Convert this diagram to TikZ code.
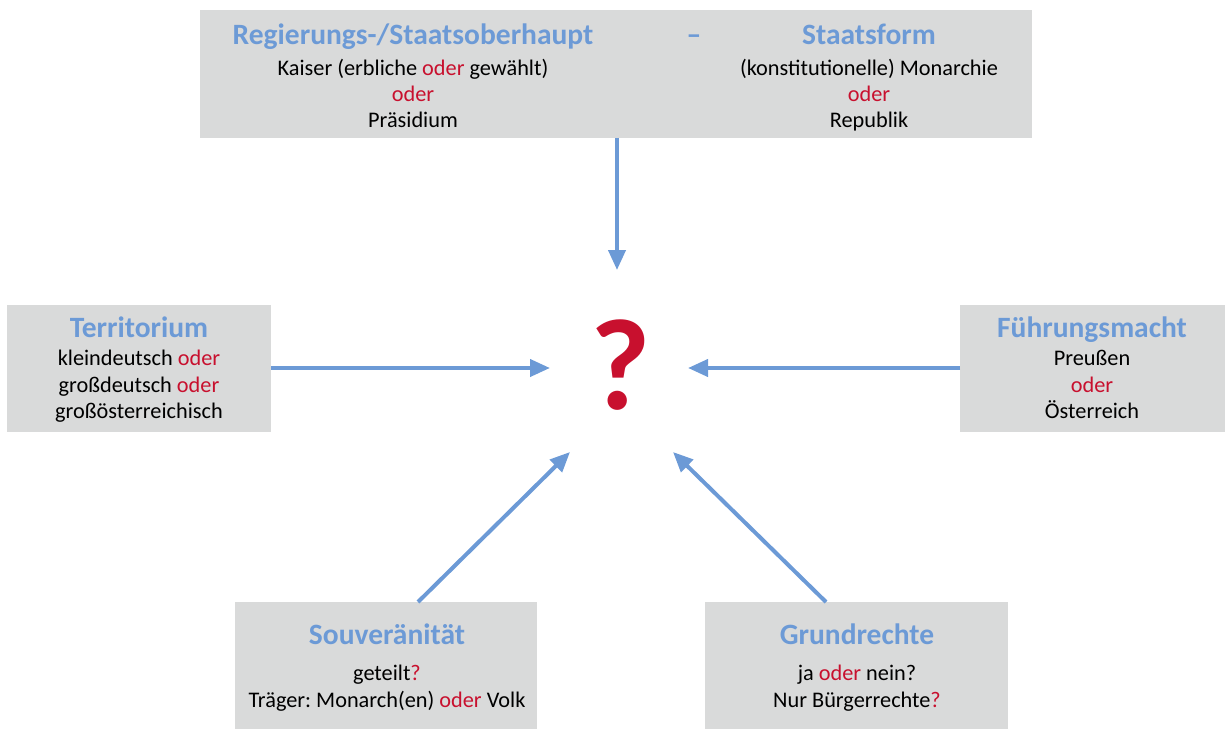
\documentclass[tikz,border=0pt]{standalone}
\usepackage{fontspec}
\setmainfont{Carlito}
\frenchspacing
\usetikzlibrary{arrows.meta}
\definecolor{boxgray}{HTML}{D9DADA}
\definecolor{hblue}{HTML}{6C9AD6}
\definecolor{ored}{HTML}{C8102E}
\begin{document}
\begin{tikzpicture}[x=1pt,y=-1pt,
  box/.style={fill=boxgray,draw=none},
  ttl/.style={text=hblue,font=\fontsize{29.5}{34}\bfseries\selectfont,inner sep=0pt,anchor=base},
  txt/.style={text=black,font=\fontsize{22.3}{26}\selectfont,inner sep=0pt,anchor=base},
  conn/.style={draw=hblue,line width=4pt,-{Triangle[length=20pt,width=17pt]}}]
\useasboundingbox (0,0) rectangle (1225,730);
% boxes
\path[box] (200,10) rectangle (1032,138);
\path[box] (7,305) rectangle (271,432);
\path[box] (960,305) rectangle (1225,432);
\path[box] (235,602) rectangle (537,729);
\path[box] (705,602) rectangle (1008,729);
\newcommand{\od}{\textcolor{ored}{oder}}
% top
\node[ttl] (t1) at (413,44.5) {Regierungs-/Staatsoberhaupt};
\node[ttl] (tdash) at (694,44.5) {–};
\node[ttl] (t2) at (869,44.5) {Staatsform};
\node[txt] (t1a) at (413,76) {Kaiser (erbliche \od{} gewählt)};
\node[txt] (t1b) at (413,102) {\od};
\node[txt] (t1c) at (413,128) {Präsidium};
\node[txt] (t2a) at (869,76) {(konstitutionelle) Monarchie};
\node[txt] (t2b) at (869,102) {\od};
\node[txt] (t2c) at (869,128) {Republik};
% left
\node[ttl] (l1) at (139,337) {Territorium};
\node[txt] (l2) at (139,365) {kleindeutsch \od};
\node[txt] (l3) at (139,392) {großdeutsch \od};
\node[txt] (l4) at (139,418) {großösterreichisch};
% right
\node[ttl] (r1) at (1092,337) {Führungsmacht};
\node[txt] (r2) at (1092,365) {Preußen};
\node[txt] (r3) at (1092,392) {\od};
\node[txt] (r4) at (1092,418) {Österreich};
% bottom left
\node[ttl] (bl1) at (387,644) {Souveränität};
\node[txt] (bl2) at (387,680) {geteilt\textcolor{ored}{?}};
\node[txt] (bl3) at (387,707) {Träger: Monarch(en) \od{} Volk};
% bottom right
\node[ttl] (br1) at (857,644) {Grundrechte};
\node[txt] (br2) at (857,680) {ja \od{} nein?};
\node[txt] (br3) at (857,707) {Nur Bürgerrechte\textcolor{ored}{?}};
% question mark
\node[text=ored,font=\fontsize{130}{130}\bfseries\selectfont,inner sep=0pt] (q) at (621,365) {?};
% connector coordinates
\coordinate (ts) at (617,138); \coordinate (te) at (617,270);
\coordinate (ls) at (271,368); \coordinate (le) at (550,368);
\coordinate (rs) at (960,368); \coordinate (re) at (688,368);
\coordinate (bls) at (418,602); \coordinate (ble) at (570,452);
\coordinate (brs) at (826,602); \coordinate (bre) at (673,452);
\draw[conn] (ts) -- (te);
\draw[conn] (ls) -- (le);
\draw[conn] (rs) -- (re);
\draw[conn] (bls) -- (ble);
\draw[conn] (brs) -- (bre);
\end{tikzpicture}
\end{document}
